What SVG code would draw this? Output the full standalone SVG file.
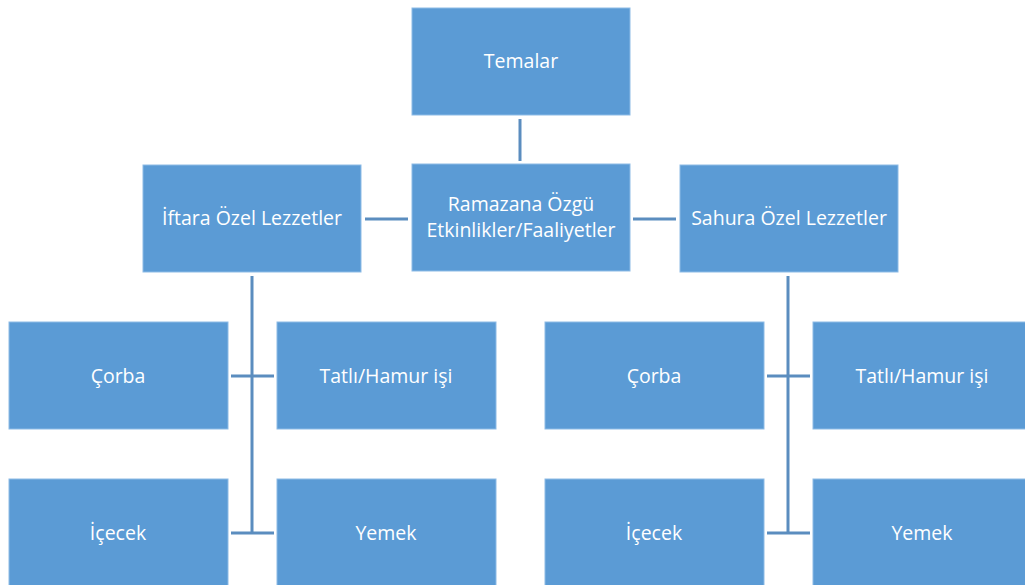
<svg xmlns="http://www.w3.org/2000/svg" width="1025" height="585" viewBox="0 0 1025 585">
<style>
.box{fill:#5B9BD5;stroke:#8dbbe6;stroke-width:1}
.t{fill:#ffffff;font-family:"Open Sans","Liberation Sans",sans-serif;font-size:19.5px;font-weight:500;text-anchor:middle;dominant-baseline:central}
.c{stroke:#5B8DBF;stroke-width:3;fill:none}
</style>
<rect width="1025" height="585" fill="#ffffff"/>
<g id="connectors">
<line class="c" x1="520" y1="119" x2="520" y2="161"/>
<line class="c" x1="365" y1="219" x2="408" y2="219"/>
<line class="c" x1="633" y1="219" x2="676" y2="219"/>
<line class="c" x1="252" y1="276" x2="252" y2="533"/>
<line class="c" x1="231" y1="376" x2="274" y2="376"/>
<line class="c" x1="231" y1="533" x2="274" y2="533"/>
<line class="c" x1="788" y1="276" x2="788" y2="533"/>
<line class="c" x1="767" y1="376" x2="810" y2="376"/>
<line class="c" x1="767" y1="533" x2="810" y2="533"/>
</g>
<g id="temalar"><rect class="box" x="412" y="8" width="218" height="107"/><text class="t" x="521" y="60">Temalar</text></g>
<g id="ramazana"><rect class="box" x="412" y="164" width="218" height="107"/><text class="t" x="521" y="203">Ramazana Özgü</text><text class="t" x="521" y="229">Etkinlikler/Faaliyetler</text></g>
<g id="iftara"><rect class="box" x="143" y="165" width="218" height="107"/><text class="t" x="252" y="217">İftara Özel Lezzetler</text></g>
<g id="sahura"><rect class="box" x="680" y="165" width="218" height="107"/><text class="t" x="789" y="217">Sahura Özel Lezzetler</text></g>
<g id="corba1"><rect class="box" x="9" y="322" width="219" height="107"/><text class="t" x="118" y="375">Çorba</text></g>
<g id="tatli1"><rect class="box" x="277" y="322" width="219" height="107"/><text class="t" x="386" y="375">Tatlı/Hamur işi</text></g>
<g id="icecek1"><rect class="box" x="9" y="479" width="219" height="110"/><text class="t" x="118" y="532">İçecek</text></g>
<g id="yemek1"><rect class="box" x="277" y="479" width="219" height="110"/><text class="t" x="386" y="532">Yemek</text></g>
<g id="corba2"><rect class="box" x="545" y="322" width="219" height="107"/><text class="t" x="654" y="375">Çorba</text></g>
<g id="tatli2"><rect class="box" x="813" y="322" width="219" height="107"/><text class="t" x="922" y="375">Tatlı/Hamur işi</text></g>
<g id="icecek2"><rect class="box" x="545" y="479" width="219" height="110"/><text class="t" x="654" y="532">İçecek</text></g>
<g id="yemek2"><rect class="box" x="813" y="479" width="219" height="110"/><text class="t" x="922" y="532">Yemek</text></g>
</svg>
